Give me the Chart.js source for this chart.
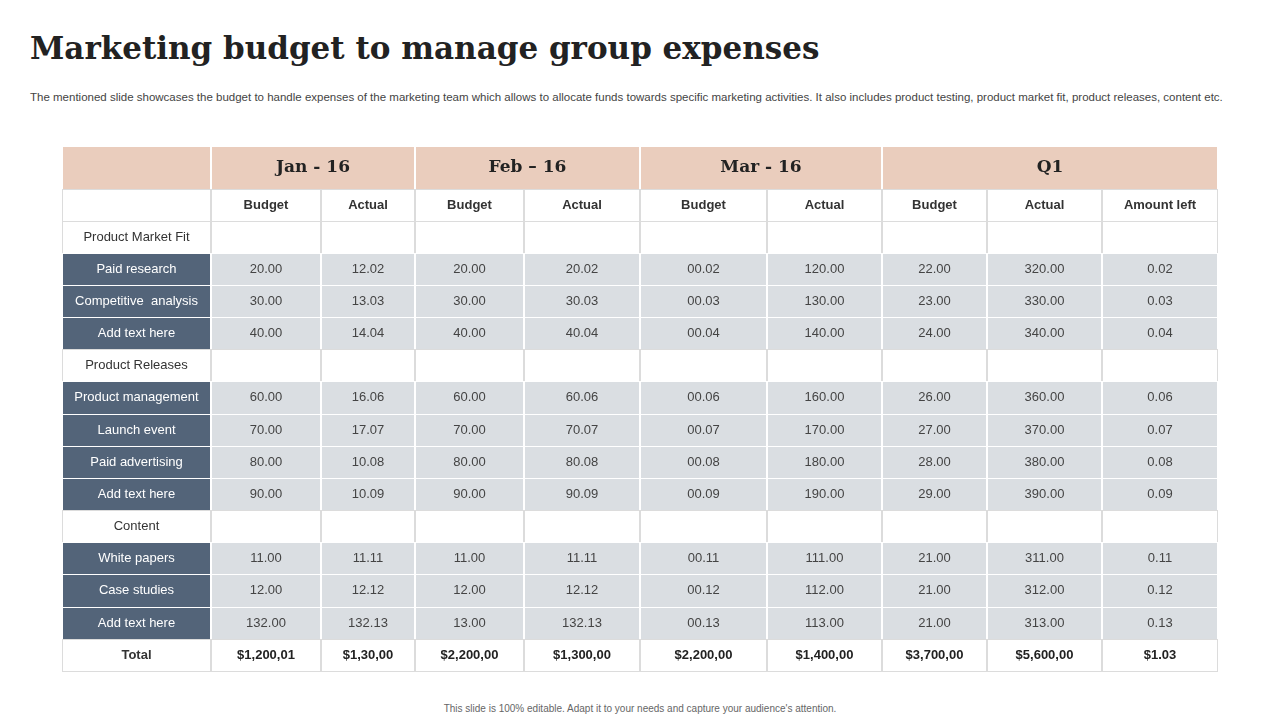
<!DOCTYPE html>
<html><head><meta charset="utf-8">
<script src="https://cdn.jsdelivr.net/npm/chart.js@4"></script>
<style>
body{margin:0;width:1280px;height:720px;background:#fff;position:relative;font-family:"Liberation Sans",Arial,sans-serif;overflow:hidden}
h1{position:absolute;left:30px;top:30px;margin:0;font-family:"DejaVu Serif",Georgia,serif;font-weight:bold;font-size:31px;color:#222;letter-spacing:0px}
.sub{position:absolute;left:30px;top:90px;width:1220px;font-size:11.5px;color:#444;line-height:14px}
.foot{position:absolute;left:0;width:1280px;top:703px;text-align:center;font-size:10px;color:#666}
#wrap{position:absolute;left:61px;top:145px;width:1158px;height:527px}
</style></head><body>
<h1>Marketing budget to manage group expenses</h1>
<div class="sub">The mentioned slide showcases the budget to handle expenses of the marketing team which allows to allocate funds towards specific marketing activities. It also includes product testing, product market fit, product releases, content etc.</div>
<div id="wrap"><canvas id="c"></canvas></div>
<div class="foot">This slide is 100% editable. Adapt it to your needs and capture your audience's attention.</div>
<script>
const groups = ["Jan - 16","Feb – 16","Mar - 16","Q1"];
const groupSpans = [2,2,2,3];
const subHeaders = ["Budget","Actual","Budget","Actual","Budget","Actual","Budget","Actual","Amount left"];
const categories = ["Product Market Fit","Paid research","Competitive  analysis","Add text here","Product Releases","Product management","Launch event","Paid advertising","Add text here","Content","White papers","Case studies","Add text here","Total"];
const sectionRows = [0,4,9];
const janBudget = [null,"20.00","30.00","40.00",null,"60.00","70.00","80.00","90.00",null,"11.00","12.00","132.00","$1,200,01"];
const janActual = [null,"12.02","13.03","14.04",null,"16.06","17.07","10.08","10.09",null,"11.11","12.12","132.13","$1,30,00"];
const febBudget = [null,"20.00","30.00","40.00",null,"60.00","70.00","80.00","90.00",null,"11.00","12.00","13.00","$2,200,00"];
const febActual = [null,"20.02","30.03","40.04",null,"60.06","70.07","80.08","90.09",null,"11.11","12.12","132.13","$1,300,00"];
const marBudget = [null,"00.02","00.03","00.04",null,"00.06","00.07","00.08","00.09",null,"00.11","00.12","00.13","$2,200,00"];
const marActual = [null,"120.00","130.00","140.00",null,"160.00","170.00","180.00","190.00",null,"111.00","112.00","113.00","$1,400,00"];
const q1Budget = [null,"22.00","23.00","24.00",null,"26.00","27.00","28.00","29.00",null,"21.00","21.00","21.00","$3,700,00"];
const q1Actual = [null,"320.00","330.00","340.00",null,"360.00","370.00","380.00","390.00",null,"311.00","312.00","313.00","$5,600,00"];
const q1Left = [null,"0.02","0.03","0.04",null,"0.06","0.07","0.08","0.09",null,"0.11","0.12","0.13","$1.03"];
const columns = [janBudget,janActual,febBudget,febActual,marBudget,marActual,q1Budget,q1Actual,q1Left];

// layout geometry (table units)
const colEdges = [0,149,259,353,462,578,705,820,925,1040,1156];
const rowEdges = [0,43,75,107,139,171,203,235,268,300,332,364,396,428,461,493,525];

const tablePlugin = {
  id:'table',
  afterDraw(chart){
    const ctx = chart.ctx, xs = chart.scales.x, ys = chart.scales.y;
    const X = v=>xs.getPixelForValue(v), Y = v=>ys.getPixelForValue(v);
    const cell=(c0,c1,r,fill,stroke)=>{
      const x0=X(colEdges[c0]),x1=X(colEdges[c1]),y0=Y(rowEdges[r]),y1=Y(rowEdges[r+1]);
      ctx.fillStyle=fill;ctx.fillRect(x0,y0,x1-x0,y1-y0);
      ctx.strokeStyle=stroke;ctx.lineWidth=1;ctx.strokeRect(x0+0.5,y0+0.5,x1-x0-1,y1-y0);
      return [(x0+x1)/2,(y0+y1)/2];
    };
    const txt=(s,p,font,color)=>{ctx.font=font;ctx.fillStyle=color;ctx.textAlign='center';ctx.textBaseline='middle';ctx.fillText(s,p[0],p[1]);};
    ctx.save();
    // header
    cell(0,1,0,'#EACDBD','#fff');
    let c=1;
    groups.forEach((g,i)=>{const p=cell(c,c+groupSpans[i],0,'#EACDBD','#fff');txt(g,p,'bold 17px "DejaVu Serif",Georgia,serif','#222');c+=groupSpans[i];});
    cell(0,1,1,'#fff','#dcdcdc');
    subHeaders.forEach((s,i)=>{const p=cell(i+1,i+2,1,'#fff','#dcdcdc');txt(s,p,'bold 13px "Liberation Sans",Arial','#333');});
    categories.forEach((name,i)=>{
      const r=i+2, sec=sectionRows.includes(i), tot=i===categories.length-1;
      if(sec||tot){
        const p=cell(0,1,r,'#fff','#dcdcdc');
        txt(name,p,(tot?'bold ':'')+'13px "Liberation Sans",Arial','#333');
        columns.forEach((col,j)=>{const q=cell(j+1,j+2,r,'#fff','#dcdcdc'); if(col[i]!=null) txt(col[i],q,'bold 13px "Liberation Sans",Arial','#222');});
      } else {
        const p=cell(0,1,r,'#536479','#fff');
        txt(name,p,'13px "Liberation Sans",Arial','#fff');
        columns.forEach((col,j)=>{const q=cell(j+1,j+2,r,'#DADEE2','#fff');txt(col[i],q,'13px "Liberation Sans",Arial','#444');});
      }
    });
    ctx.restore();
  }
};
new Chart(document.getElementById('c'),{
  type:'scatter',
  data:{datasets:[{data:[],pointRadius:0}]},
  options:{responsive:true,maintainAspectRatio:false,animation:false,
    layout:{padding:{left:1,right:1,top:1,bottom:1}},
    plugins:{legend:{display:false},tooltip:{enabled:false}},
    scales:{x:{type:'linear',min:0,max:1156,display:false},y:{type:'linear',min:0,max:525,reverse:true,display:false}}},
  plugins:[tablePlugin]
});
</script></body></html>
